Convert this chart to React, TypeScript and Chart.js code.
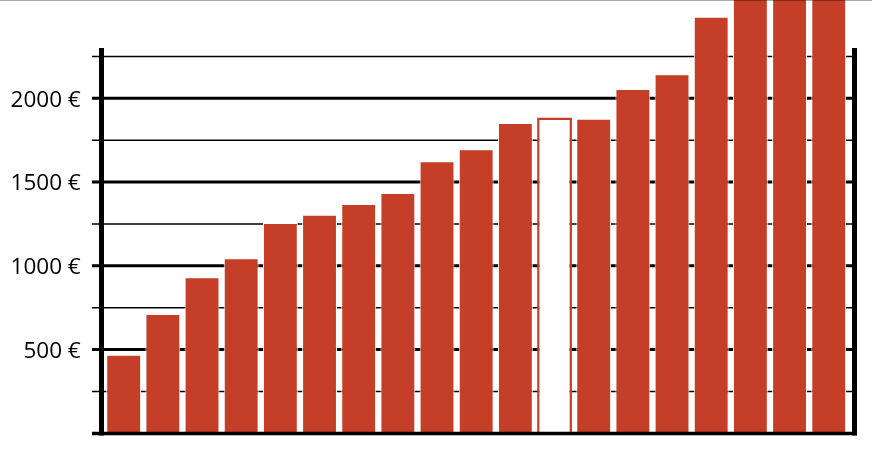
import { useEffect, useRef } from "react";
import { Chart, registerables } from "chart.js";

Chart.register(...registerables);

// Data
const categories: string[] = [
  "1", "2", "3", "4", "5", "6", "7", "8", "9", "10",
  "11", "12", "13", "14", "15", "16", "17", "18", "19",
];
const values: number[] = [
  470, 713, 932, 1045, 1256, 1305, 1369, 1435, 1624, 1696,
  1853, 1885, 1878, 2055, 2143, 2487, 2700, 2800, 2900,
];
const highlightIndex = 11; // the hollow bar
const yMin = 0;
const yMax = 2300;
const yTickValues: number[] = [0, 250, 500, 750, 1000, 1250, 1500, 1750, 2000, 2250];
const yLabelStep = 500;
const currency = "€";

export default function App() {
  const ref = useRef<HTMLCanvasElement>(null);

  useEffect(() => {
    document.body.style.margin = "0";
    const canvas = ref.current;
    if (!canvas) return;
    const red = "#C53E28";
    const leftAxisInset = 2.6; // axis line sits slightly left of first category
    const rightAxisOutset = 6.2; // and slightly right of last category
    const tickLen = 9.5;

    const axisX = (a: any) => ({ l: a.left - leftAxisInset, r: a.right + rightAxisOutset });

    const framePlugin = {
      id: "frame",
      beforeDatasetsDraw(chart: any) {
        const { ctx, chartArea: a, scales } = chart;
        const { l, r } = axisX(a);
        ctx.save();
        ctx.strokeStyle = "#000";
        for (const t of scales.y.ticks) {
          const y = scales.y.getPixelForValue(t.value);
          ctx.lineWidth = t.value % yLabelStep === 0 ? 3 : 1.5;
          ctx.beginPath();
          ctx.moveTo(l - tickLen, y);
          ctx.lineTo(r, y);
          ctx.stroke();
        }
        ctx.restore();
      },
      afterDatasetsDraw(chart: any) {
        const { ctx, chartArea: a } = chart;
        const { l, r } = axisX(a);
        ctx.save();
        ctx.strokeStyle = "#000";
        ctx.lineWidth = 5;
        ctx.beginPath();
        ctx.moveTo(l, a.top);
        ctx.lineTo(l, a.bottom + 2);
        ctx.moveTo(r, a.top);
        ctx.lineTo(r, a.bottom + 2);
        ctx.stroke();
        ctx.lineWidth = 3.5;
        ctx.beginPath();
        ctx.moveTo(l - tickLen, a.bottom);
        ctx.lineTo(r + 2.5, a.bottom);
        ctx.stroke();
        ctx.fillStyle = "rgba(0,0,0,0.33)";
        ctx.fillRect(0, 0, chart.width, 1);
        ctx.restore();
      },
    };

    const chart = new Chart(canvas, {
      type: "bar",
      data: {
        labels: categories,
        datasets: [
          {
            data: values,
            backgroundColor: values.map((_, i) => (i === highlightIndex ? "#ffffff" : red)),
            borderColor: values.map((_, i) => (i === highlightIndex ? red : "#ffffff")),
            borderWidth: values.map((_, i) => (i === highlightIndex ? 2.5 : 1)),
            barPercentage: 0.89,
            categoryPercentage: 1,
            clip: false as any,
          },
        ],
      },
      options: {
        animation: false,
        responsive: false,
        devicePixelRatio: 1,
        layout: { padding: { top: 48, right: 23.7, bottom: 20.6, left: 0 } },
        plugins: {
          legend: { display: false },
          tooltip: { enabled: false },
        },
        scales: {
          x: {
            type: "category",
            display: false,
            offset: true,
            grid: { display: false },
          },
          y: {
            min: yMin,
            max: yMax,
            border: { display: false },
            afterFit: (scale: any) => {
              scale.width = 104.1;
              scale.paddingTop = 0;
              scale.paddingBottom = 0;
            },
            afterBuildTicks: (scale: any) => {
              scale.ticks = yTickValues.map((v) => ({ value: v }));
            },
            grid: { display: false, drawTicks: false },
            ticks: {
              padding: 23.4,
              labelOffset: 2,
              color: "#000",
              font: { family: "'Open Sans', sans-serif", size: 22.5, lineHeight: 1 },
              callback: (v: any) => {
                const n = Number(v);
                return n > 0 && n % yLabelStep === 0 ? `${n} ${currency}` : "";
              },
            },
          },
        },
      },
      plugins: [framePlugin],
    });

    return () => chart.destroy();
  }, []);

  return <canvas ref={ref} width={872} height={454} style={{ display: "block" }} />;
}
